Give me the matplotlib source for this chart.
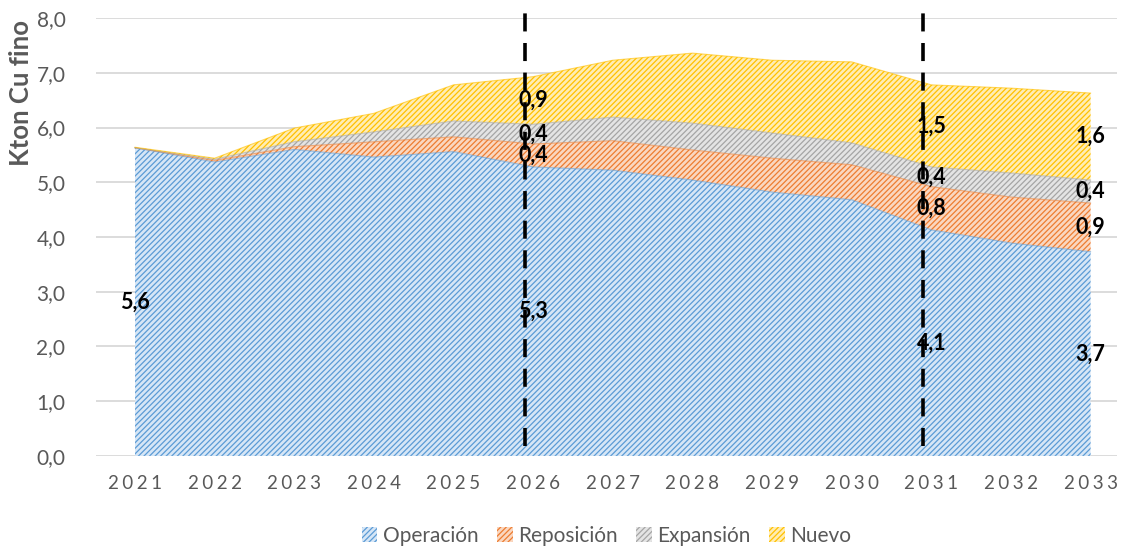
import matplotlib
matplotlib.use("Agg")
import matplotlib.pyplot as plt
from matplotlib.patches import Patch
import numpy as np

years = [2021, 2022, 2023, 2024, 2025, 2026, 2027, 2028, 2029, 2030, 2031, 2032, 2033]
operacion  = [5.63, 5.37, 5.60, 5.46, 5.56, 5.28, 5.22, 5.04, 4.82, 4.68, 4.13, 3.89, 3.73]
reposicion = [0.00, 0.03, 0.05, 0.28, 0.27, 0.42, 0.54, 0.55, 0.62, 0.64, 0.79, 0.84, 0.89]
expansion  = [0.00, 0.02, 0.09, 0.18, 0.29, 0.36, 0.43, 0.49, 0.46, 0.40, 0.36, 0.44, 0.42]
nuevo      = [0.01, 0.02, 0.25, 0.34, 0.66, 0.87, 1.04, 1.28, 1.33, 1.48, 1.50, 1.55, 1.59]
series_names = ["Operación", "Reposición", "Expansión", "Nuevo"]
label_years = [2026, 2031, 2033]
marker_years = [2026, 2031]

plt.rcParams['font.family'] = ['Lato', 'DejaVu Sans']
plt.rcParams['hatch.linewidth'] = 0.9

fig = plt.figure(figsize=(11.27, 5.48), dpi=100)
ax = fig.add_axes([0.0852, 0.168, 0.9058, 0.799])

edge_colors = ["#5B9BD5", "#ED7D31", "#A5A5A5", "#FFC000"]
face_colors = ["#D6E6F6", "#FAD7C0", "#E4E4E4", "#FFEDB3"]

data = [operacion, reposicion, expansion, nuevo]
x = np.array(years, dtype=float)
base = np.zeros(len(years))
bases = []
for vals, ec, fc in zip(data, edge_colors, face_colors):
    v = np.array(vals)
    ax.fill_between(x, base, base + v, facecolor=fc, edgecolor=ec, hatch='//////',
                    linewidth=0.0, zorder=2)
    ax.plot(x, base + v, color=ec, lw=0.8, alpha=0.6, zorder=2.5)
    bases.append(base.copy())
    base = base + v

def fmt(v):
    return f"{v:.1f}".replace(".", ",")

lab_kw = dict(ha='center', va='center', fontsize=15.5, fontweight='bold', color='black', zorder=5)
ax.text(years[0], operacion[0] / 2, fmt(operacion[0]), **lab_kw)
for yr in label_years:
    i = years.index(yr)
    for k, vals in enumerate(data):
        ax.text(yr, bases[k][i] + vals[i] / 2, fmt(vals[i]), **lab_kw)

for yr in marker_years:
    ax.plot([yr - 0.1, yr - 0.1], [0.18, 8.15], color='black', lw=2.6,
            dashes=(5, 3.2), zorder=4, clip_on=False)

ax.set_xlim(2020.51, 2033.33)
ax.set_ylim(0, 8)
ax.set_yticks(np.arange(0, 8.01, 1.0))
ax.set_yticklabels([fmt(v) for v in np.arange(0, 8.01, 1.0)])
ax.set_xticks(years)
ax.set_xticklabels(["\u2009\u200a".join(str(y)) for y in years])
ax.grid(axis='y', color='#D9D9D9', lw=1.3, zorder=0)
ax.set_axisbelow(True)
for s in ax.spines.values():
    s.set_visible(False)
ax.tick_params(axis='y', length=0, colors='#595959', labelsize=15, pad=22)
ax.tick_params(axis='x', length=0, colors='#595959', labelsize=13.5, pad=14)
ax.set_ylabel("Kton Cu fino", fontsize=18.5, fontweight='bold', color='#595959')
ax.yaxis.set_label_coords(-0.062, 0.83)

handles = [Patch(facecolor=fc, edgecolor=ec, hatch='//////', linewidth=0)
           for ec, fc in zip(edge_colors, face_colors)]
leg = fig.legend(handles, series_names, loc='center', bbox_to_anchor=(0.538, 0.022),
                 ncol=4, frameon=False, fontsize=15, handlelength=0.75, handleheight=0.75,
                 handletextpad=0.25, columnspacing=0.9)
for t in leg.get_texts():
    t.set_color('#595959')

fig.savefig("out.png", dpi=100)
